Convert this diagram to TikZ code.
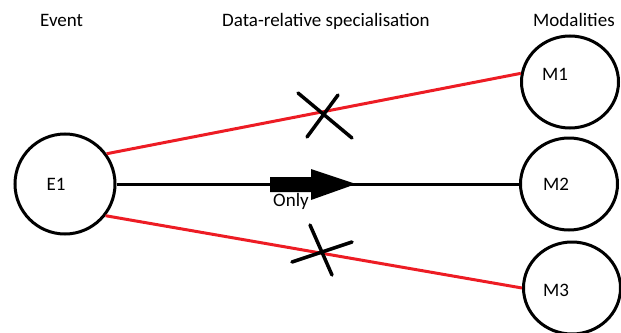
\documentclass[tikz,border=0pt]{standalone}
\usepackage{fontspec}
\setmainfont{Carlito}
\usetikzlibrary{shapes.geometric}
\definecolor{paintred}{RGB}{237,28,36}

\begin{document}
\begin{tikzpicture}[x=1pt,y=-1pt,font=\fontsize{19}{21}\selectfont,
  state/.style={draw,line width=3pt,circle,minimum size=100pt,inner sep=0pt},
  modal/.style={draw,line width=3pt,ellipse,minimum width=97pt,minimum height=92pt,inner sep=0pt},
  redline/.style={draw=paintred,line width=3pt},
  cross/.style={line width=3.5pt,line cap=round}]
  \useasboundingbox (0,0) rectangle (621,332);
  % headings
  \node[anchor=base west,inner sep=0pt] (hevent) at (40,27) {Event};
  \node[anchor=base west,inner sep=0pt] (hspec) at (222,27) {Data-relative specialisation};
  \node[anchor=base west,inner sep=0pt] (hmod) at (533,27) {Modalities};
  % event and modalities
  \node[state] (e1) at (65,184) {};
  \node (e1t) at (56,184) {E1};
  \foreach \n/\x/\y/\tx/\ty in {1/570/82/555/74,2/569/184/556/184,3/572/288/556/290}{
    \node[modal] (m\n) at (\x,\y) {};
    \node (mt\n) at (\tx,\ty) {M\n};}
  % connectors
  \draw[redline] (e1.36) -- (m1.170);
  \draw[redline] (e1.-38) -- (m3.west);
  \draw[line width=3pt] (e1) -- (m2);
  \fill (270,177) -- (311,177) -- (311,169) -- (356,184) -- (311,200) -- (311,192) -- (270,192) -- cycle;
  \node[anchor=base west,inner sep=0pt] (only) at (273,206) {Only};
  % crosses
  \draw[cross] (298,93) -- (352,138) (338,95) -- (307,137);
  \draw[cross] (310,225) -- (332,275) (352,242) -- (292,262);
\end{tikzpicture}
\end{document}
